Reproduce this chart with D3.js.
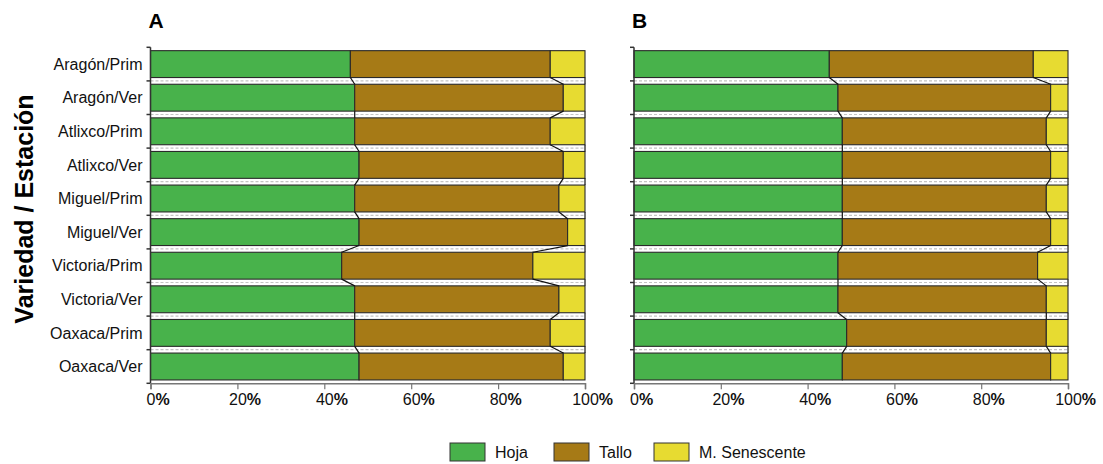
<!DOCTYPE html>
<html>
<head>
<meta charset="utf-8">
<script src="https://cdn.jsdelivr.net/npm/d3@7"></script>
<style>
  html, body { margin: 0; padding: 0; background: #fff; }
  svg { display: block; font-family: "Liberation Sans", Arial, sans-serif; }
</style>
</head>
<body>
<svg id="chart" width="1103" height="464"></svg>
<script>
// Categories (variety / season)
const categories = [
  "Aragón/Prim", "Aragón/Ver", "Atlixco/Prim", "Atlixco/Ver", "Miguel/Prim",
  "Miguel/Ver", "Victoria/Prim", "Victoria/Ver", "Oaxaca/Prim", "Oaxaca/Ver"
];
const seriesNames = ["Hoja", "Tallo", "M. Senescente"];

// Panel A percentages
const hojaA  = [46, 47, 47, 48, 47, 48, 44, 47, 47, 48];
const talloA = [46, 48, 45, 47, 47, 48, 44, 47, 45, 47];
const senA   = [ 8,  5,  8,  5,  6,  4, 12,  6,  8,  5];

// Panel B percentages
const hojaB  = [45, 47, 48, 48, 48, 48, 47, 47, 49, 48];
const talloB = [47, 49, 47, 48, 47, 48, 46, 48, 46, 48];
const senB   = [ 8,  4,  5,  4,  5,  4,  7,  5,  5,  4];

const xTicks = [0, 20, 40, 60, 80, 100];
const colors = ["#48B24B", "#A67A16", "#E7DB31"];

const svg = d3.select("#chart");

function buildRows(h, t, s) {
  return categories.map((c, i) => ({ cat: c, Hoja: h[i], Tallo: t[i], "M. Senescente": s[i] }));
}

const y = d3.scaleBand()
  .domain(categories)
  .range([47.3, 383.3])
  .paddingInner(0.2)
  .paddingOuter(0.1);

function drawPanel(x0, x1, rows, title, showLabels) {
  const x = d3.scaleLinear().domain([0, 100]).range([x0, x1]);
  const g = svg.append("g");
  const step = y.step();
  const top = y.range()[0];
  const bottom = y.range()[1];
  const boundaries = d3.range(categories.length + 1).map(i => top + i * step);

  // dashed gridlines between categories
  g.append("g").selectAll("line").data(boundaries.slice(1, -1)).join("line")
    .attr("x1", x(0)).attr("x2", x(100))
    .attr("y1", d => d).attr("y2", d => d)
    .attr("stroke", "#c4c4c4").attr("stroke-width", 1.2)
    .attr("stroke-dasharray", "3,2");

  const stack = d3.stack().keys(seriesNames)(rows);

  // stacked bars
  g.append("g").selectAll("g").data(stack).join("g")
    .attr("fill", (d, i) => colors[i])
    .selectAll("rect").data(d => d).join("rect")
    .attr("x", d => x(d[0]))
    .attr("width", d => x(d[1]) - x(d[0]))
    .attr("y", d => y(d.data.cat))
    .attr("height", y.bandwidth())
    .attr("stroke", "#2a2a2a")
    .attr("stroke-width", 1.1);

  // series lines joining the segment ends of neighbouring bars
  const lines = g.append("g");
  stack.forEach(layer => {
    for (let i = 0; i < layer.length - 1; i++) {
      const a = layer[i], b = layer[i + 1];
      lines.append("line")
        .attr("x1", x(a[1])).attr("y1", y(a.data.cat) + y.bandwidth())
        .attr("x2", x(b[1])).attr("y2", y(b.data.cat))
        .attr("stroke", "#111").attr("stroke-width", 1.2);
    }
  });

  // left axis with ticks at category boundaries
  g.append("line")
    .attr("x1", x(0)).attr("x2", x(0))
    .attr("y1", top).attr("y2", bottom)
    .attr("stroke", "#333").attr("stroke-width", 1.5);
  g.append("g").selectAll("line").data(boundaries).join("line")
    .attr("x1", x(0) - 4).attr("x2", x(0))
    .attr("y1", d => d).attr("y2", d => d)
    .attr("stroke", "#333").attr("stroke-width", 1.5);

  if (showLabels) {
    g.append("g").selectAll("text").data(categories).join("text")
      .attr("x", x(0) - 8)
      .attr("y", d => y(d) + y.bandwidth() / 2)
      .attr("dy", "0.35em")
      .attr("text-anchor", "end")
      .attr("font-size", 16)
      .attr("fill", "#111")
      .text(d => d);
  }

  // bottom axis
  const ax = g.append("g")
    .attr("transform", `translate(0,${bottom})`)
    .call(d3.axisBottom(x).tickValues(xTicks).tickSize(6).tickPadding(4).tickFormat(d => d));
  ax.select(".domain").attr("stroke", "#777").attr("stroke-width", 1.5);
  ax.selectAll(".tick line").attr("stroke", "#777").attr("stroke-width", 1.2);
  ax.selectAll(".tick text")
    .attr("font-size", 16)
    .attr("font-family", "Liberation Sans, Arial, sans-serif")
    .attr("fill", "#111");
  ax.selectAll(".tick").each(function () {
    const t = d3.select(this).select("text");
    const w = t.node().getComputedTextLength();
    d3.select(this).append("text")
      .attr("x", w / 2)
      .attr("y", t.attr("y"))
      .attr("dy", t.attr("dy"))
      .attr("text-anchor", "start")
      .attr("font-size", 16)
      .attr("font-weight", "bold")
      .attr("font-family", "Liberation Sans, Arial, sans-serif")
      .attr("fill", "#111")
      .text("%");
  });

  // panel letter
  svg.append("text")
    .attr("x", x0 - 2).attr("y", 28)
    .attr("font-size", 21).attr("font-weight", "bold")
    .attr("fill", "#000")
    .text(title);
}

drawPanel(150.5, 585, buildRows(hojaA, talloA, senA), "A", true);
drawPanel(634, 1068, buildRows(hojaB, talloB, senB), "B", false);

// y axis title
svg.append("text")
  .attr("transform", "translate(33,209) rotate(-90)")
  .attr("text-anchor", "middle")
  .attr("font-size", 25)
  .attr("font-weight", "bold")
  .attr("fill", "#000")
  .text("Variedad / Estación");

// legend
const legendX = [450, 554, 654];
const leg = svg.append("g").selectAll("g").data(seriesNames).join("g")
  .attr("transform", (d, i) => `translate(${legendX[i]},443)`);
leg.append("rect")
  .attr("width", 35).attr("height", 18)
  .attr("fill", (d, i) => colors[i])
  .attr("stroke", "#333").attr("stroke-width", 1);
leg.append("text")
  .attr("x", 45).attr("y", 9).attr("dy", "0.35em")
  .attr("font-size", 16).attr("fill", "#111")
  .text(d => d);
</script>
</body>
</html>
